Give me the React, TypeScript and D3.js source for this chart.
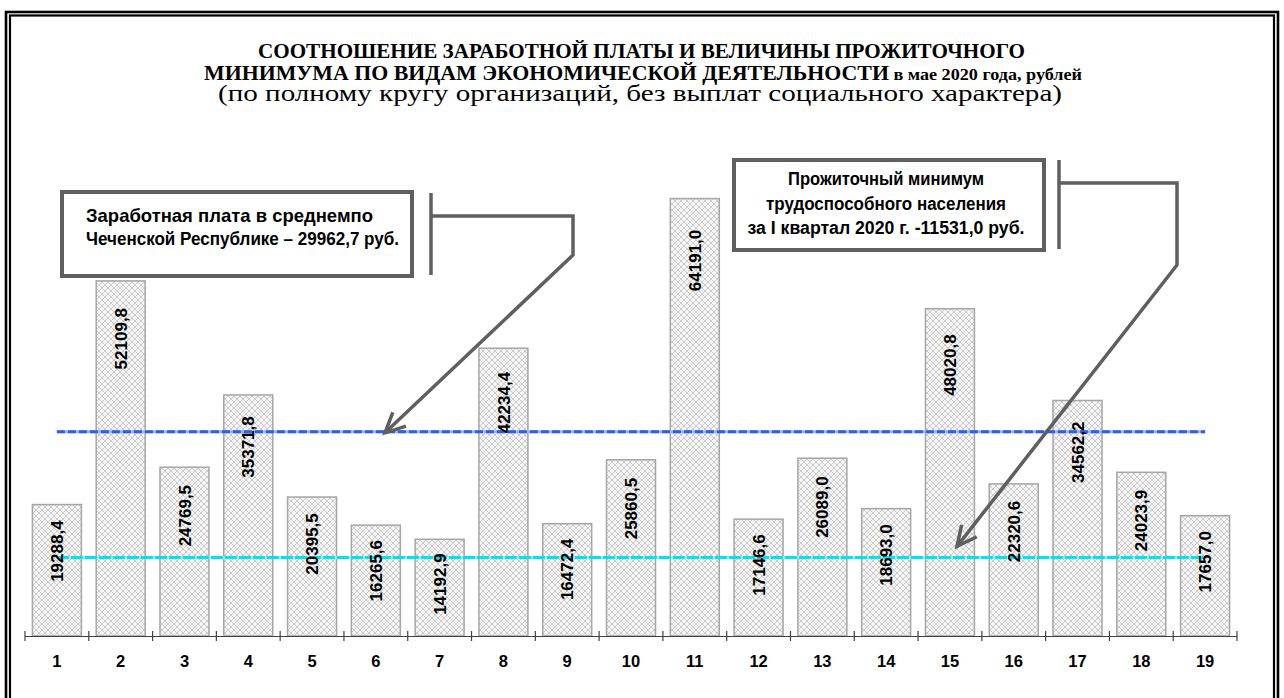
import React from "react";
import * as d3 from "d3";

const categories = ["1","2","3","4","5","6","7","8","9","10","11","12","13","14","15","16","17","18","19"];
const values = [19288.4,52109.8,24769.5,35371.8,20395.5,16265.6,14192.9,42234.4,16472.4,25860.5,64191.0,17146.6,26089.0,18693.0,48020.8,22320.6,34562.2,24023.9,17657.0];
const avgWage = 29962.7;
const subsistence = 11531.0;
const titleLines = [
  "СООТНОШЕНИЕ ЗАРАБОТНОЙ ПЛАТЫ И ВЕЛИЧИНЫ ПРОЖИТОЧНОГО",
  "МИНИМУМА ПО ВИДАМ ЭКОНОМИЧЕСКОЙ ДЕЯТЕЛЬНОСТИ",
  " в мае 2020 года, рублей",
  "(по полному кругу организаций, без выплат социального характера)",
];
const callout1 = ["Заработная плата в среднемпо", "Чеченской Республике – 29962,7 руб."];
const callout2 = ["Прожиточный минимум", "трудоспособного населения", "за I квартал 2020 г. -11531,0 руб."];

const fmt = (v: number) => v.toFixed(1).replace(".", ",");

export default function App() {
  const W = 1284, H = 698;
  const x0 = 25, x1 = 1237, base = 636;
  const x = d3.scaleBand<string>().domain(categories).range([x0, x1]).paddingInner(0.232).paddingOuter(0.116);
  const y = d3.scaleLinear().domain([0, 70000]).range([base, 159]);
  const step = x.step();
  const cx = (c: string) => (x(c) as number) + x.bandwidth() / 2;
  const lx0 = cx(categories[0]);
  const lx1 = cx(categories[categories.length - 1]);
  const sans = "'Liberation Sans', Arial, sans-serif";
  const serif = "'Liberation Serif', 'Times New Roman', serif";
  const grey = "#5f5f5f";

  const arrowHead = (fx: number, fy: number, tx: number, ty: number) => {
    const a = Math.atan2(ty - fy, tx - fx);
    const L = 22, s = 0.45;
    const p1 = [tx - L * Math.cos(a - s), ty - L * Math.sin(a - s)];
    const p2 = [tx - L * Math.cos(a + s), ty - L * Math.sin(a + s)];
    return `M${p1[0]},${p1[1]}L${tx},${ty}L${p2[0]},${p2[1]}`;
  };

  const yAvg = y(avgWage);
  const ySub = y(subsistence);
  const a1 = { fx: 573, fy: 255, tx: 385, ty: yAvg + 1 };
  const a2 = { fx: 1177, fy: 265, tx: 957, ty: ySub - 11 };

  return (
    <svg width={W} height={H} style={{ position: "absolute", left: 0, top: 0, background: "#fff" }}>
      <defs>
        <pattern id="hatch" width="6" height="6" patternUnits="userSpaceOnUse">
          <rect width="6" height="6" fill="#f4f4f4" />
          <path d="M0,0L6,6M6,0L0,6" stroke="#cbcbcb" strokeWidth="1" />
        </pattern>
      </defs>
      <rect x={0} y={0} width={W} height={H} fill="#fff" />
      {/* frame */}
      <rect x={6} y={12} width={1272} height={720} fill="none" stroke="#000" strokeWidth={2.6} />
      <rect x={10} y={15.5} width={1264} height={720} fill="none" stroke="#000" strokeWidth={2.2} />

      {/* title */}
      <text x={641.5} y={58} textAnchor="middle" fontFamily={serif} fontWeight="bold" fontSize={21}
        textLength={767} lengthAdjust="spacingAndGlyphs">{titleLines[0]}</text>
      <text x={643} y={79.5} textAnchor="middle" fontFamily={serif} fontWeight="bold" fontSize={20.5}
        textLength={878} lengthAdjust="spacingAndGlyphs">
        {titleLines[1]}<tspan fontSize={17}>{titleLines[2]}</tspan>
      </text>
      <text x={640} y={101} textAnchor="middle" fontFamily={serif} fontSize={23}
        textLength={844} lengthAdjust="spacingAndGlyphs">{titleLines[3]}</text>

      {/* bars */}
      {categories.map((c, i) => (
        <rect key={c} x={x(c)} y={y(values[i])} width={x.bandwidth()} height={base - y(values[i])}
          fill="url(#hatch)" stroke="#a6a6a6" strokeWidth={1.5} />
      ))}

      {/* reference lines */}
      <line x1={lx0} x2={lx1} y1={yAvg} y2={yAvg} stroke="#9fb2f2" strokeWidth={3} />
      <line x1={lx0} x2={lx1} y1={yAvg} y2={yAvg} stroke="#2f5ee6" strokeWidth={3} strokeDasharray="8 3" />
      <line x1={lx0} x2={lx1} y1={ySub} y2={ySub} stroke="#9ff4fa" strokeWidth={3} />
      <line x1={lx0} x2={lx1} y1={ySub} y2={ySub} stroke="#00e4f2" strokeWidth={3} strokeDasharray="12 2" />

      {/* bar labels */}
      {categories.map((c, i) => {
        const top = y(values[i]);
        const h = base - top;
        return (
          <text key={c} transform={`translate(${cx(c)},${top + 40 + 0.05 * h}) rotate(-90)`}
            textAnchor="middle" dy="0.36em" fontFamily={sans} fontWeight="bold" fontSize={17} fill="#000">
            {fmt(values[i])}
          </text>
        );
      })}

      {/* axis */}
      <line x1={x0} x2={x1} y1={base + 0.5} y2={base + 0.5} stroke="#404040" strokeWidth={1.2} />
      {d3.range(categories.length + 1).map((i) => (
        <line key={i} x1={x0 + i * step} x2={x0 + i * step} y1={base - 5} y2={base + 5} stroke="#404040" strokeWidth={1.2} />
      ))}
      {categories.map((c) => (
        <text key={c} x={cx(c)} y={667} textAnchor="middle" fontFamily={sans} fontWeight="bold" fontSize={16.5}>{c}</text>
      ))}

      {/* callout 1 */}
      <rect x={62} y={192} width={350} height={84} fill="#fff" stroke={grey} strokeWidth={4} />
      <text x={86} y={222} fontFamily={sans} fontWeight="bold" fontSize={18.5} textLength={287} lengthAdjust="spacingAndGlyphs">{callout1[0]}</text>
      <text x={86} y={245} fontFamily={sans} fontWeight="bold" fontSize={18.5} textLength={313} lengthAdjust="spacingAndGlyphs">{callout1[1]}</text>
      <line x1={431} x2={431} y1={193} y2={275} stroke={grey} strokeWidth={3.5} />
      <path d={`M431,216L573,216L${a1.fx},${a1.fy}L${a1.tx},${a1.ty}`} fill="none" stroke={grey} strokeWidth={3.5} strokeLinejoin="miter" />
      <path d={arrowHead(a1.fx, a1.fy, a1.tx, a1.ty)} fill="none" stroke={grey} strokeWidth={3.5} />

      {/* callout 2 */}
      <rect x={734} y={160} width={310} height={90} fill="#fff" stroke={grey} strokeWidth={4} />
      {callout2.map((t, i) => (
        <text key={i} x={886} y={185 + i * 24.5} textAnchor="middle" fontFamily={sans} fontWeight="bold" fontSize={18}
          textLength={[196, 240, 277][i]} lengthAdjust="spacingAndGlyphs">{t}</text>
      ))}
      <line x1={1059} x2={1059} y1={160} y2={249} stroke={grey} strokeWidth={3.5} />
      <path d={`M1059,183L1177,183L${a2.fx},${a2.fy}L${a2.tx},${a2.ty}`} fill="none" stroke={grey} strokeWidth={3.5} />
      <path d={arrowHead(a2.fx, a2.fy, a2.tx, a2.ty)} fill="none" stroke={grey} strokeWidth={3.5} />
    </svg>
  );
}
